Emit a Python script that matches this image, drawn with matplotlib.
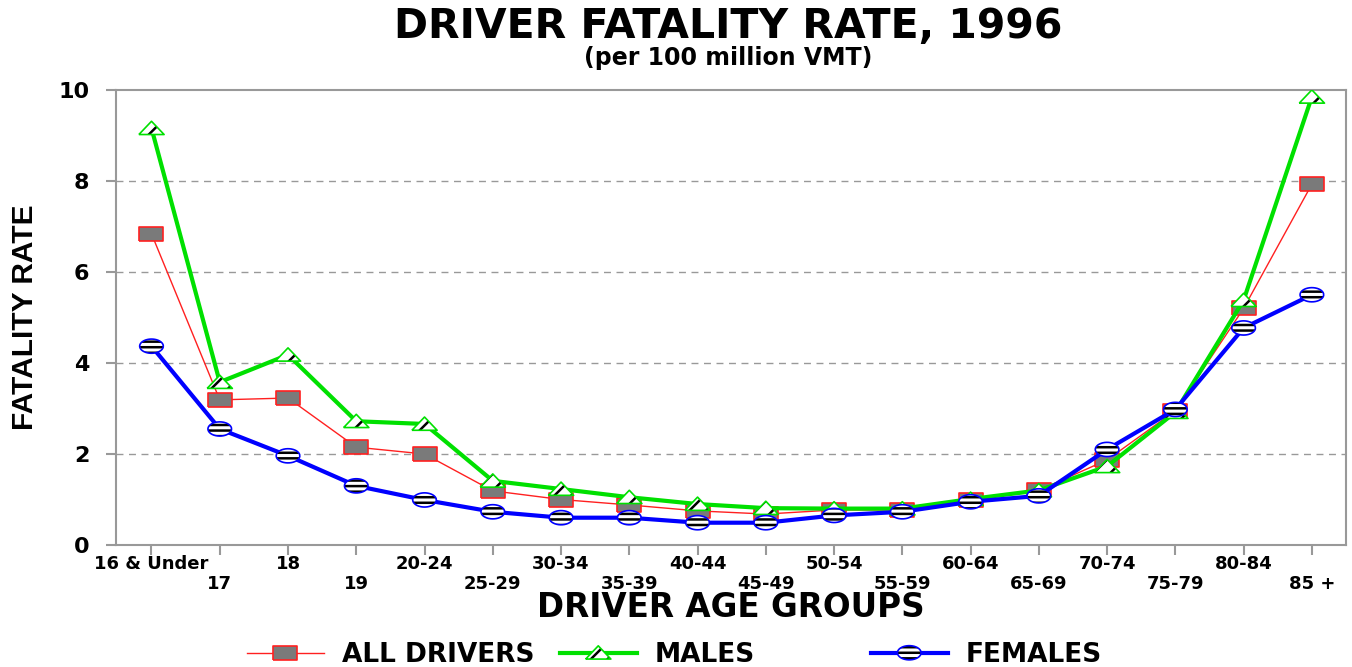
import numpy as np
import matplotlib
matplotlib.use("Agg")
import matplotlib.pyplot as plt
from matplotlib.legend_handler import HandlerTuple

# data
age_groups = ["16 & Under", "17", "18", "19", "20-24", "25-29", "30-34", "35-39",
              "40-44", "45-49", "50-54", "55-59", "60-64", "65-69", "70-74",
              "75-79", "80-84", "85 +"]
all_drivers = [6.84, 3.19, 3.23, 2.15, 2.00, 1.19, 1.00, 0.88, 0.75, 0.68,
               0.77, 0.77, 0.99, 1.20, 1.87, 2.95, 5.20, 7.93]
males = [9.16, 3.58, 4.18, 2.72, 2.66, 1.41, 1.23, 1.05, 0.90, 0.81,
         0.80, 0.80, 1.01, 1.20, 1.73, 2.92, 5.38, 9.85]
females = [4.37, 2.55, 1.96, 1.30, 0.99, 0.73, 0.60, 0.60, 0.49, 0.49,
           0.65, 0.73, 0.95, 1.08, 2.10, 2.98, 4.77, 5.50]
y_ticks = [0, 2, 4, 6, 8, 10]

plt.rcParams["font.family"] = ["DejaVu Sans"]
plt.rcParams["font.weight"] = "bold"
plt.rcParams["hatch.linewidth"] = 1.8

# marker shapes
rect_marker = [(-1, -0.6), (1, -0.6), (1, 0.6), (-1, 0.6), (-1, -0.6)]
tri_marker = [(-1, -0.5), (1, -0.5), (0, 0.55), (-1, -0.5)]
t = np.linspace(0, 2 * np.pi, 40)
ell_marker = list(zip(np.cos(t), 0.6 * np.sin(t)))

fig = plt.figure(figsize=(13.52, 6.67), dpi=100)
ax = fig.add_axes([116 / 1352, 122 / 667, 1230 / 1352, 455 / 667])

x = np.arange(len(age_groups))

# ALL DRIVERS (bottom)
l_all, = ax.plot(x, all_drivers, color="#ff2020", lw=1.0, zorder=2)
s_all = ax.scatter(x, all_drivers, marker=rect_marker, s=290, facecolor="#7a7a7a",
                   edgecolor="#ff2020", linewidths=1.2, zorder=3)

# MALES
l_m, = ax.plot(x, males, color="#00e000", lw=3.0, zorder=4)
s_m_fill = ax.scatter(x, males, marker=tri_marker, s=330, facecolor="white",
                      edgecolor="black", linewidths=0, hatch="//", zorder=5)
s_m = ax.scatter(x, males, marker=tri_marker, s=330, facecolor="none",
                 edgecolor="#00e000", linewidths=1.2, zorder=5)

# FEMALES (top)
l_f, = ax.plot(x, females, color="#0000ff", lw=3.0, zorder=6)
s_f_fill = ax.scatter(x, females, marker=ell_marker, s=290, facecolor="white",
                      edgecolor="black", linewidths=0, hatch="---", zorder=7)
s_f = ax.scatter(x, females, marker=ell_marker, s=290, facecolor="none",
                 edgecolor="#0000ff", linewidths=1.2, zorder=7)

ax.set_xlim(-0.52, 17.5)
ax.set_ylim(0, 10)
ax.set_yticks(y_ticks)
ax.set_yticklabels([str(v) for v in y_ticks], fontsize=16, fontweight="bold")
ax.set_xticks(x)
ax.set_xticklabels([lab if i % 2 == 0 else "\n" + lab for i, lab in enumerate(age_groups)],
                   fontsize=13, fontweight="bold", linespacing=1.15)
ax.tick_params(axis="x", color="#999999", length=7, width=1.5, pad=0)
ax.tick_params(axis="y", color="#999999", length=7, width=1.5, pad=12)

for sp in ax.spines.values():
    sp.set_color("#999999")
    sp.set_linewidth(1.5)

for v in y_ticks[1:-1]:
    ax.axhline(v, color="#999999", lw=1.0, ls=(0, (5, 4)), zorder=1)

fig.text(728 / 1352, 1 - 27 / 667, "DRIVER FATALITY RATE, 1996", ha="center", va="center",
         fontsize=29.5, fontweight="bold")
fig.text(728 / 1352, 1 - 58 / 667, "(per 100 million VMT)", ha="center", va="center",
         fontsize=17, fontweight="bold")
fig.text(731 / 1352, 1 - 617 / 667, "DRIVER AGE GROUPS", ha="center", va="baseline",
         fontsize=23.5, fontweight="bold")
fig.text(25 / 1352, 1 - 317 / 667, "FATALITY RATE", ha="center", va="center", rotation=90,
         fontsize=21.5, fontweight="bold", family=["Liberation Sans Narrow", "Liberation Sans"])

# legend entries, placed one by one like the original
entries = [((l_all, s_all), "ALL DRIVERS", 247),
           ((l_m, s_m_fill, s_m), "MALES", 560),
           ((l_f, s_f_fill, s_f), "FEMALES", 871)]
for handle, label, x0 in entries:
    leg = fig.legend([handle], [label], loc="center left",
                     bbox_to_anchor=(x0 / 1352, 1 - 655 / 667),
                     handler_map={tuple: HandlerTuple(ndivide=1)},
                     frameon=False, borderpad=0, borderaxespad=0,
                     handlelength=2.9, handletextpad=0.7, scatterpoints=1,
                     scatteryoffsets=[0.5], prop={"size": 19, "weight": "bold"})

fig.savefig("out.png", dpi=100)
